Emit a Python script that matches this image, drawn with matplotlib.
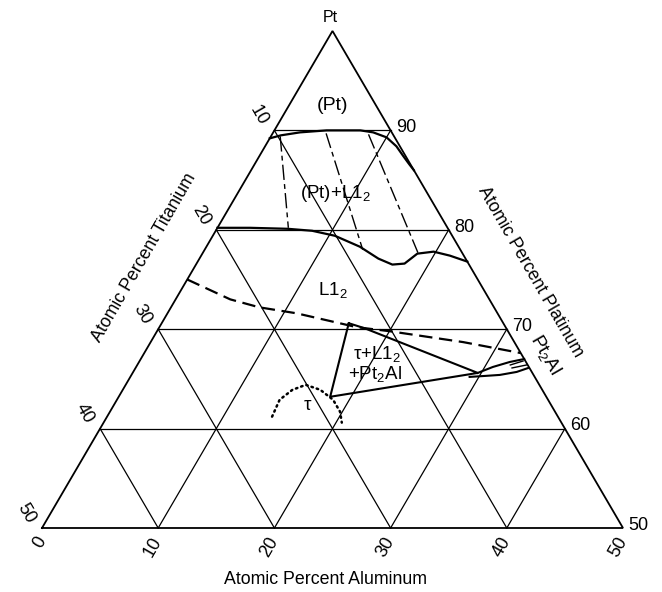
import numpy as np
import matplotlib
matplotlib.use("Agg")
import matplotlib.pyplot as plt

plt.rcParams['font.family'] = ['Liberation Sans', 'DejaVu Sans']
plt.rcParams['mathtext.fontset'] = 'custom'
plt.rcParams['mathtext.rm'] = 'Liberation Sans'
plt.rcParams['mathtext.it'] = 'Liberation Sans:italic'

# ---- data (at.% Al, at.% Pt) ----
grid_pt = [60, 70, 80, 90]
grid_al = [10, 20, 30, 40]
grid_ti = [10, 20, 30, 40]
al_ticks = [0, 10, 20, 30, 40, 50]
pt_ticks = [90, 80, 70, 60, 50]
ti_ticks = [10, 20, 30, 40, 50]

# (Pt) solvus
ptss_al = [0.0, 0.8, 2.3, 4.5, 7.4, 8.6, 10.0, 11.3, 12.4, 13.3, 14.0]
ptss_pt = [89.2, 89.5, 89.8, 90.0, 90.0, 89.8, 89.3, 88.4, 87.4, 86.6, 86.0]
# L1_2 upper boundary (solid)
l12a_al = [0.0, 2.8, 6.1, 8.3, 10.5, 13.2, 15.4, 16.9, 17.9, 18.5, 19.8, 21.4, 23.2]
l12a_pt = [80.2, 80.2, 80.1, 79.9, 79.4, 78.3, 77.1, 76.5, 76.6, 77.6, 77.8, 77.4, 76.8]
# L1_2 lower boundary (dashed)
l12b_al = [0.0, 4.7, 7.6, 11.1, 17.0, 20.0, 26.9, 32.4]
l12b_pt = [75.0, 73.0, 72.2, 71.6, 70.2, 69.8, 68.7, 67.6]
# tie lines (Pt)+L1_2
tie_al = [[0.8, 6.1], [4.6, 13.6], [8.3, 18.5]]
tie_pt = [[89.4, 80.2], [89.7, 78.0], [89.6, 77.7]]
# three-phase triangle tau + L1_2 + Pt2Al
tri_al = [16.1, 17.7, 29.7, 18.2, 16.1]
tri_pt = [70.6, 70.1, 65.6, 63.2, 70.6]
# Pt2Al lens
lensu_al = [29.7, 30.7, 31.9, 33.0]
lensu_pt = [65.6, 66.2, 66.7, 67.0]
lensl_al = [29.2, 30.5, 31.7, 33.0, 33.8]
lensl_pt = [65.2, 65.3, 65.4, 65.7, 66.1]
lenstie_al = [[32.1, 33.0], [32.4, 33.5]]
lenstie_pt = [[66.4, 66.8], [66.1, 66.4]]
# tau phase (dotted)
tau_al = [14.2, 14.0, 14.6, 15.5, 17.0, 18.6, 19.8, 20.5]
tau_pt = [61.2, 62.9, 63.9, 64.4, 63.9, 62.9, 61.7, 60.6]

S3 = np.sqrt(3) / 2


def tx(al, pt):
    al = np.asarray(al, float)
    pt = np.asarray(pt, float)
    return al + 0.5 * pt, pt * S3


fig = plt.figure(figsize=(6.62, 5.92), dpi=100)
ax = fig.add_axes([0, 0, 1, 1])
ax.set_xlim(21.386, 78.356)
ax.set_ylim(37.725, 89.302)
ax.axis('off')

K = 'black'
# outline
ox, oy = tx([0, 50, 0, 0], [50, 50, 100, 50])
ax.plot(ox, oy, color=K, lw=1.3, solid_joinstyle='miter')
# grid
for p in grid_pt:
    x, y = tx([0, 100 - p], [p, p])
    ax.plot(x, y, color=K, lw=0.9)
for a in grid_al:
    x, y = tx([a, a], [50, 100 - a])
    ax.plot(x, y, color=K, lw=0.9)
for t in grid_ti:
    x, y = tx([50 - t, 0], [50, 100 - t])
    ax.plot(x, y, color=K, lw=0.9)

# phase boundaries
ax.plot(*tx(ptss_al, ptss_pt), color=K, lw=1.6)
ax.plot(*tx(l12a_al, l12a_pt), color=K, lw=1.6)
ax.plot(*tx(l12b_al, l12b_pt), color=K, lw=1.6, dashes=(6, 3))
for a, p in zip(tie_al, tie_pt):
    ax.plot(*tx(a, p), color=K, lw=1.0, dashes=(11, 3, 3.5, 3))
ax.plot(*tx(tri_al, tri_pt), color=K, lw=1.5)
ax.plot(*tx(lensu_al, lensu_pt), color=K, lw=1.5)
ax.plot(*tx(lensl_al, lensl_pt), color=K, lw=1.5)
for a, p in zip(lenstie_al, lenstie_pt):
    ax.plot(*tx(a, p), color=K, lw=1.0)
ax.plot(*tx(tau_al, tau_pt), color=K, lw=1.8, dashes=(0.6, 1.6), dash_capstyle='round')

# tick labels
NUM = 13
for p in pt_ticks:
    x, y = tx(100 - p, p)
    ax.annotate(str(p), (x, y), xytext=(4, 2), textcoords='offset points',
                ha='left', va='center', fontsize=NUM)
for t in ti_ticks:
    x, y = tx(0, 100 - t)
    ax.annotate(str(t), (x, y), xytext=(-7.6, 4.3), textcoords='offset points',
                ha='right', va='center', rotation=-60, rotation_mode='anchor', fontsize=NUM)
for a in al_ticks:
    x, y = tx(a, 50)
    ax.annotate(str(a), (x, y), xytext=(0, -7.5), textcoords='offset points',
                ha='right', va='center', rotation=60, rotation_mode='anchor', fontsize=NUM)


def px(xp, yp):
    return xp / 662.0, 1 - yp / 592.0


TT = 12.8
ax.text(*px(330, 18), 'Pt', transform=ax.transAxes, ha='center', va='center', fontsize=11.5)
ax.text(*px(326, 579), 'Atomic Percent Aluminum', transform=ax.transAxes,
        ha='center', va='center', fontsize=TT)
ax.text(*px(144, 258), 'Atomic Percent Titanium', transform=ax.transAxes,
        ha='center', va='center', fontsize=TT, rotation=60)
ax.text(*px(530, 272), 'Atomic Percent Platinum', transform=ax.transAxes,
        ha='center', va='center', fontsize=TT, rotation=-60)

LB = 13.5
ax.text(*px(332, 106), '(Pt)', transform=ax.transAxes, ha='center', va='center', fontsize=14)
ax.text(*px(335, 194), r'(Pt)+L1$_2$', transform=ax.transAxes, ha='center', va='center', fontsize=LB)
ax.text(*px(333, 290), r'L1$_2$', transform=ax.transAxes, ha='center', va='center', fontsize=LB)
ax.text(*px(377, 354), r'τ+L1$_2$', transform=ax.transAxes, ha='center', va='center', fontsize=LB)
ax.text(*px(375, 374), r'+Pt$_2$Al', transform=ax.transAxes, ha='center', va='center', fontsize=LB)
ax.text(*px(307, 406), 'τ', transform=ax.transAxes, ha='center', va='center', fontsize=LB)
ax.text(*px(545, 355), r'Pt$_2$Al', transform=ax.transAxes, ha='center', va='center',
        fontsize=LB, rotation=-60)

fig.savefig('out.png', dpi=100)
